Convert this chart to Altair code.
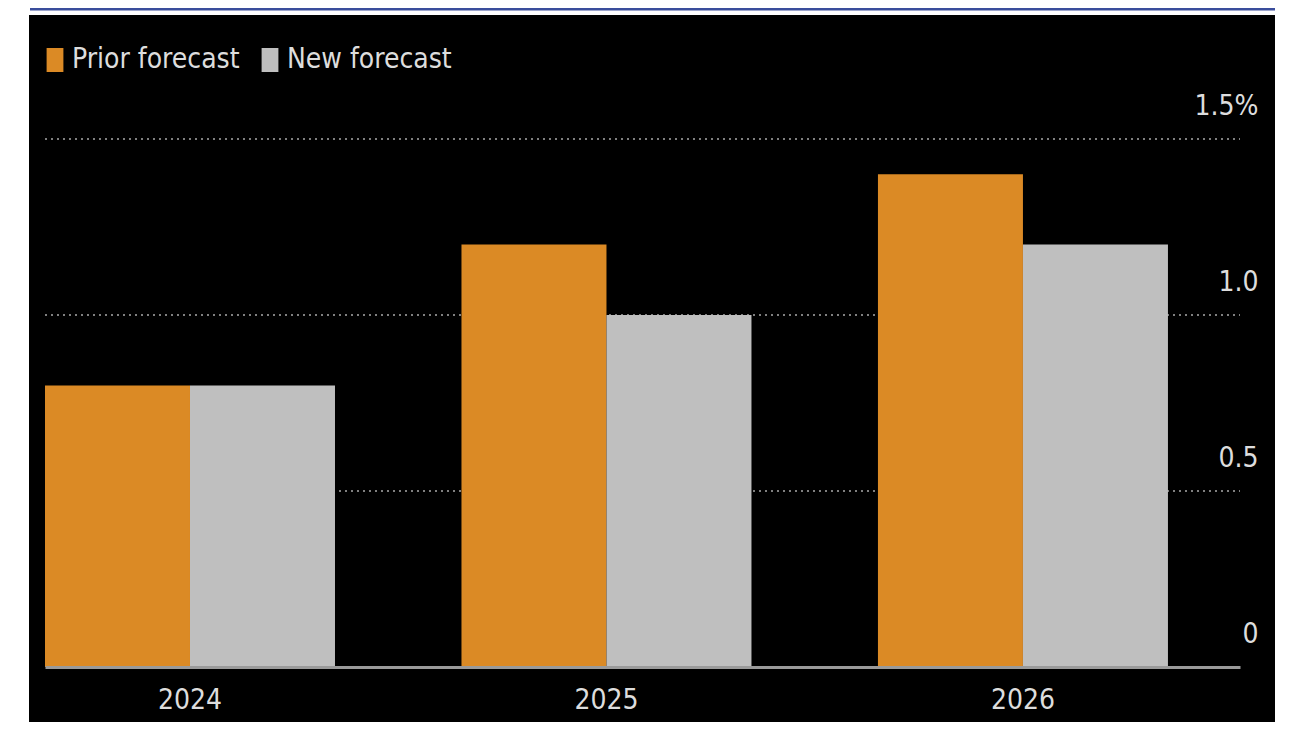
import altair as alt
import pandas as pd

years = ["2024", "2025", "2026"]
prior_forecast = [0.8, 1.2, 1.4]
new_forecast = [0.8, 1.0, 1.2]
series = ["Prior forecast", "New forecast"]
colors = ["#DB8A25", "#BFBFBF"]
y_ticks = [0, 0.5, 1.0, 1.5]
grid_ticks = [0.5, 1.0, 1.5]

rows = []
for i, yr in enumerate(years):
    rows.append({"year": yr, "series": series[0], "value": prior_forecast[i]})
    rows.append({"year": yr, "series": series[1], "value": new_forecast[i]})
df = pd.DataFrame(rows)
grid_df = pd.DataFrame({"value": grid_ticks})

FONT = "DejaVu Sans Condensed, sans-serif"
W, H = 1195, 528

bg = alt.Chart(alt.Data(values=[{}])).mark_rect(color="#000000").encode(
    x=alt.value(-16), x2=alt.value(1230), y=alt.value(-124), y2=alt.value(H + 60)
)
topline = alt.Chart(alt.Data(values=[{}])).mark_rule(color="#3a4d9c", strokeWidth=3).encode(
    x=alt.value(-15), x2=alt.value(1230), y=alt.value(-130)
)

yscale = alt.Scale(domain=[0, 1.5], nice=False)
yaxis = alt.Axis(orient="right", values=y_ticks, ticks=False, domain=False, grid=False,
                 labelAlign="right", labelPadding=18, labelBaseline="bottom",
                 labelOffset=-19, labelFontSize=28, labelFont=FONT, labelColor="#dddddd",
                 labelExpr="datum.value == 1.5 ? '1.5%' : (datum.value == 0 ? '0' : format(datum.value, '.1f'))",
                 zindex=1)

grid = alt.Chart(grid_df).mark_rule(color="#7f7f7f", strokeDash=[2, 4], strokeWidth=2).encode(
    y=alt.Y("value:Q", title=None, scale=yscale, axis=yaxis),
    x=alt.value(0), x2=alt.value(W),
)

bars = alt.Chart(df).mark_bar().encode(
    x=alt.X("year:N", sort=years, title=None,
            scale=alt.Scale(paddingInner=0.3037, paddingOuter=0.0865, align=0),
            axis=alt.Axis(labelAngle=0, labelFontSize=28, labelFont=FONT, labelColor="#dddddd",
                          ticks=False, labelPadding=19, domainColor="#9a9a9a", domainWidth=3,
                          grid=False, zindex=1)),
    xOffset=alt.XOffset("series:N", sort=series, scale=alt.Scale(paddingInner=0, paddingOuter=0)),
    y=alt.Y("value:Q", title=None, scale=yscale, axis=yaxis),
    color=alt.Color("series:N", sort=series,
                    scale=alt.Scale(domain=series, range=colors),
                    legend=alt.Legend(title=None, orient="none", direction="horizontal",
                                      legendX=-4, legendY=-93,
                                      symbolType="M-0.7,-1L0.7,-1L0.7,1L-0.7,1Z",
                                      symbolSize=576, symbolStrokeWidth=0, labelOffset=3,
                                      labelFontSize=28, labelFont=FONT, labelColor="#dddddd",
                                      labelLimit=500, columnPadding=16)),
)

chart = alt.layer(bg, topline, grid, bars).resolve_scale(y="shared").properties(
    width=W, height=H,
    background="#ffffff",
    padding={"left": 37, "top": 131, "right": 35, "bottom": 55},
    autosize=alt.AutoSizeParams(type="none"),
).configure_view(stroke=None)

chart.save("out.html", embed_options={"renderer": "svg", "actions": False})
